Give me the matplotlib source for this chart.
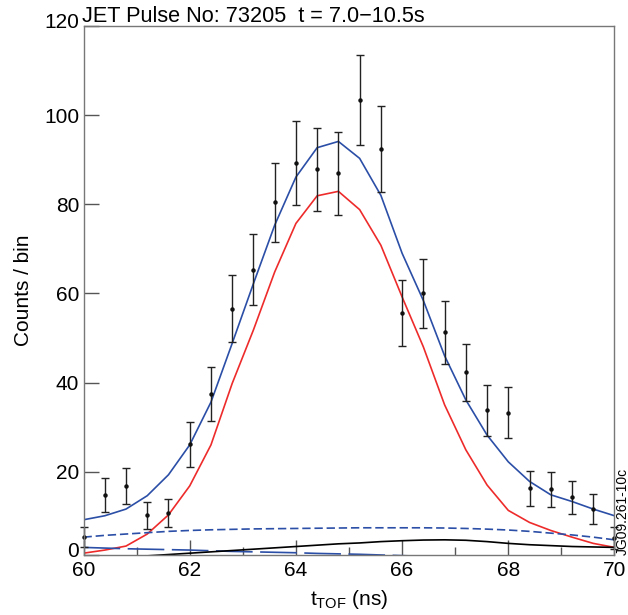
import matplotlib
matplotlib.use("Agg")
import matplotlib.pyplot as plt
import matplotlib.transforms as mtransforms
from matplotlib.ticker import MultipleLocator

plt.rcParams['font.family'] = ['Liberation Sans', 'DejaVu Sans']

# time of flight bins (ns)
t = [60.0, 60.4, 60.8, 61.2, 61.6, 62.0, 62.4, 62.8, 63.2, 63.6, 64.0, 64.4, 64.8,
     65.2, 65.6, 66.0, 66.4, 66.8, 67.2, 67.6, 68.0, 68.4, 68.8, 69.2, 69.6, 70.0]

# measured counts and errors
counts = [5.4, 14.8, 16.8, 10.2, 10.7, 26.1, 37.4, 56.6, 65.3, 80.4, 89.3, 87.9, 87.0,
          103.3, 92.4, 55.5, 60.0, 51.3, 42.3, 33.8, 33.2, 16.3, 16.0, 14.2, 11.6, 5.1]
errs = [2.2, 3.8, 4.0, 3.1, 3.2, 5.1, 6.1, 7.5, 8.0, 8.9, 9.4, 9.3, 9.3,
        10.1, 9.6, 7.4, 7.7, 7.1, 6.4, 5.75, 5.75, 3.9, 4.0, 3.7, 3.3, 2.5]

# fit components
total = [9.2, 10.1, 11.6, 14.6, 19.3, 26.0, 35.6, 48.8, 62.2, 75.3, 86.1, 92.7, 94.1,
         90.3, 82.0, 69.0, 58.4, 46.0, 36.1, 28.2, 22.2, 17.8, 14.8, 13.3, 11.6, 10.1]
main = [1.7, 2.4, 3.3, 6.0, 10.3, 16.8, 26.0, 39.8, 51.8, 64.8, 75.7, 81.9, 82.9,
        78.8, 70.8, 59.2, 48.0, 35.0, 24.9, 17.0, 11.3, 8.6, 6.8, 5.3, 3.9, 3.0]
bkg_short = [5.3, 5.7, 6.0, 6.3, 6.6, 6.8, 6.95, 7.05, 7.15, 7.2, 7.25, 7.3, 7.35,
             7.4, 7.4, 7.4, 7.4, 7.35, 7.25, 7.1, 6.9, 6.6, 6.2, 5.8, 5.3, 4.7]
bkg_long = [3.0, 2.85, 2.7, 2.6, 2.5, 2.4, 2.25, 2.1, 2.0, 1.9, 1.8, 1.65, 1.55,
            1.45, 1.3, 1.15, 1.0, 0.9, 0.8, 0.7, 0.6, 0.5, 0.45, 0.4, 0.35, 0.3]
other = [0.5, 0.7, 0.9, 1.1, 1.4, 1.7, 2.0, 2.3, 2.6, 2.9, 3.2, 3.5, 3.8,
         4.0, 4.3, 4.5, 4.65, 4.7, 4.6, 4.3, 3.9, 3.6, 3.4, 3.2, 3.1, 3.0]

yticks = [0, 20, 40, 60, 80, 100, 120]

fig = plt.figure(figsize=(6.28, 6.15), dpi=100)
ax = fig.add_axes([0.133, 0.0976, 0.8455, 0.8601])

blue = '#2b4ea6'
ax.plot(t, total, color=blue, lw=1.2)
ax.plot(t, main, color='#ee2b2b', lw=1.2)
ax.plot(t, bkg_short, color=blue, lw=1.2, dashes=(5, 2.3))
ax.plot(t, bkg_long, color=blue, lw=1.2, dashes=(22, 4.5))
ax.plot(t, other, color='black', lw=1.2)
ax.errorbar(t, counts, yerr=errs, fmt='o', ms=2.2, color='#111111',
            ecolor='#222222', elinewidth=1.0, capsize=3.2, capthick=1.0, clip_on=False)

ax.set_xlim(60, 70)
ax.set_ylim(1.3, 120)
ax.xaxis.set_major_locator(MultipleLocator(2))
ax.xaxis.set_minor_locator(MultipleLocator(1))
ax.set_yticks([1.3] + yticks[1:])
ax.set_yticklabels([str(v) for v in yticks])
ax.tick_params(direction='in', length=11, width=1.0, color='#555555',
               labelsize=15, pad=4)
ax.tick_params(axis='x', which='minor', direction='in', length=6, width=1.0,
               color='#555555')
ax.tick_params(axis='y', pad=3)
# ROOT-style: end labels of the y axis sit slightly above their ticks
up = mtransforms.ScaledTranslation(0, 4 / 72, fig.dpi_scale_trans)
ylabs = ax.get_yticklabels()
for lab in (ylabs[0], ylabs[-1]):
    lab.set_transform(lab.get_transform() + up)
for s in ax.spines.values():
    s.set_color('#777777')
    s.set_linewidth(1.0)

ax.set_ylabel('Counts / bin', fontsize=15, labelpad=8)
ax.set_xlabel(r'$\mathregular{t_{TOF}}$ (ns)', fontsize=15, labelpad=6)

fig.text(0.131, 0.965, 'JET Pulse No: 73205  t = 7.0\u221210.5s', fontsize=15.6,
         ha='left', va='baseline')
fig.text(0.991, 0.098, 'JG09.261-10c', fontsize=10, rotation=90,
         ha='center', va='bottom')

fig.savefig('out.png', dpi=100)
